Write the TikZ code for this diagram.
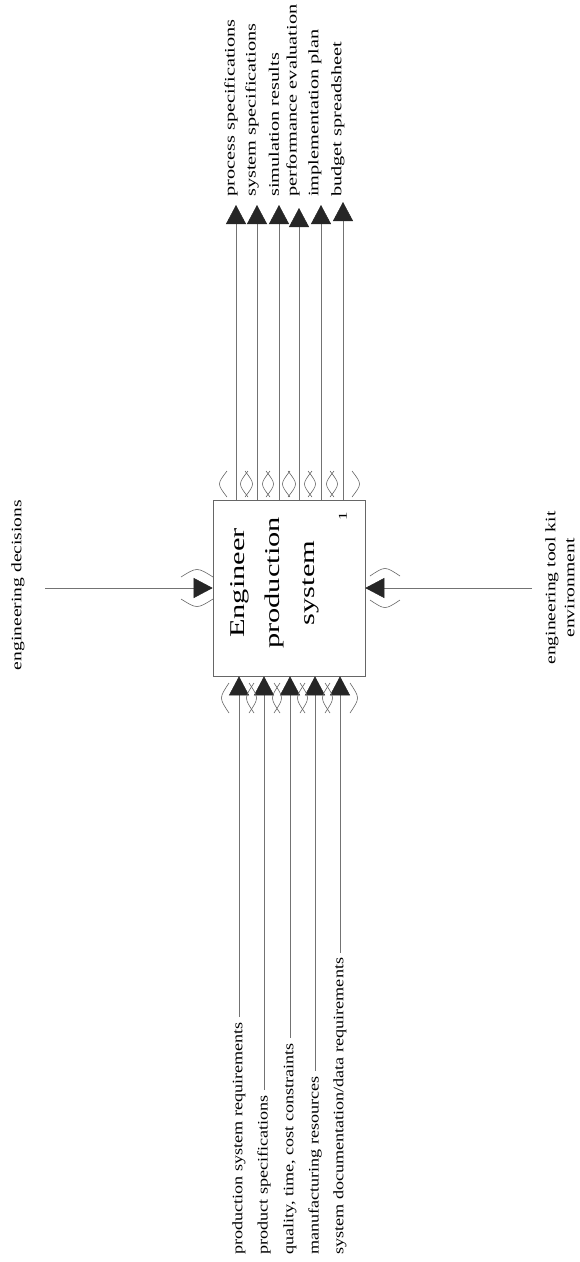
\documentclass[tikz,border=0pt]{standalone}
\usepackage{fontspec}
\setmainfont{Liberation Serif}
\usetikzlibrary{arrows.meta}
\newcommand\mytunv[4]{% x, centre y, offset, half height
  \draw[tun] (#1-#3+5,#2-#4) .. controls (#1-#3-5,#2) .. (#1-#3+5,#2+#4);
  \draw[tun] (#1+#3-5,#2-#4) .. controls (#1+#3+5,#2) .. (#1+#3-5,#2+#4);}
\newcommand\mytunh[4]{% centre x, y, offset, half width
  \draw[tun] (#1-#4,#2-#3+5) .. controls (#1,#2-#3-5) .. (#1+#4,#2-#3+5);
  \draw[tun] (#1-#4,#2+#3-5) .. controls (#1,#2+#3+5) .. (#1+#4,#2+#3-5);}
\newcommand\stre[1]{\scalebox{1.4}[1]{#1}}
\newcommand\strb[1]{\scalebox{1.25}[1]{#1}}
\begin{document}
\begin{tikzpicture}[x=1pt,y=-1pt,
  conn/.style={line width=0.5pt, draw=black!55},
  arr/.style={conn, -{Triangle[length=19pt,width=20pt,color=black!85,fill=black!85]}},
  tun/.style={line width=0.6pt, draw=black!60},
  lab/.style={rotate=90, inner sep=0pt, font=\fontsize{14.5}{17}\selectfont},
  toplab/.style={lab, anchor=west},
]
\useasboundingbox (0,0) rectangle (579,1262);
% box
\node[draw=black!60, line width=0.6pt, minimum width=152pt, minimum height=176pt, inner sep=0pt] (box) at (289,588) {};
\node[rotate=90, align=center, font=\fontsize{21}{35}\selectfont] (title) at (275,583)
  {\scalebox{1.45}[1]{Engineer}\\\scalebox{1.45}[1]{production}\\\scalebox{1.45}[1]{system}};
\node[rotate=90, inner sep=0pt, font=\fontsize{12}{12}\selectfont] (num) at (343,516) {\scalebox{1.4}[1]{1}};
% outputs
\coordinate (o1) at (236,205);
\coordinate (o2) at (257,205);
\coordinate (o3) at (279,205);
\coordinate (o4) at (299,208);
\coordinate (o5) at (321,205);
\coordinate (o6) at (343,202);
\foreach \i in {1,...,6} {\draw[arr] (box.north -| o\i) -- (o\i);}
\node[toplab] (lo1) at (231,197) {\stre{process specifications}};
\node[toplab] (lo2) at (252,197) {\stre{system specifications}};
\node[toplab] (lo3) at (274,197) {\stre{simulation results}};
\node[toplab] (lo4) at (293,197) {\stre{performance evaluation}};
\node[toplab] (lo5) at (315,197) {\stre{implementation plan}};
\node[toplab] (lo6) at (338,197) {\stre{budget spreadsheet}};
\foreach \x in {236,257,279,299,321,343} {\mytunv{\x}{484}{14}{13}}
% inputs
\node[lab, anchor=west] (li1) at (239,1255) {\strb{production system requirements}};
\node[lab, anchor=west] (li2) at (264,1255) {\strb{product specifications}};
\node[lab, anchor=west] (li3) at (290,1255) {\strb{quality, time, cost constraints}};
\node[lab, anchor=west] (li4) at (315,1255) {\strb{manufacturing resources}};
\node[lab, anchor=west] (li5) at (340,1255) {\strb{system documentation/data requirements}};
\foreach \i in {1,...,5} {\draw[arr, shorten <=5pt] (li\i.east) -- (box.south -| li\i.east);}
\foreach \x in {239,264,290,315,340} {\mytunv{\x}{698}{15}{15}}
% control
\node[lab] (lc) at (18,585) {\scalebox{1.35}[1]{engineering decisions}};
\coordinate (cin) at (45,588);
\draw[arr] (cin) -- (box.west);
\mytunh{197}{588}{16}{16}
% mechanism
\node[lab, align=center, font=\fontsize{14.5}{19}\selectfont] (lm) at (560,588) {\scalebox{1.35}[1]{engineering tool kit}\\\scalebox{1.35}[1]{environment}};
\coordinate (min) at (532,588);
\draw[arr] (min) -- (box.east);
\mytunh{385}{588}{17}{15}
\end{tikzpicture}
\end{document}
